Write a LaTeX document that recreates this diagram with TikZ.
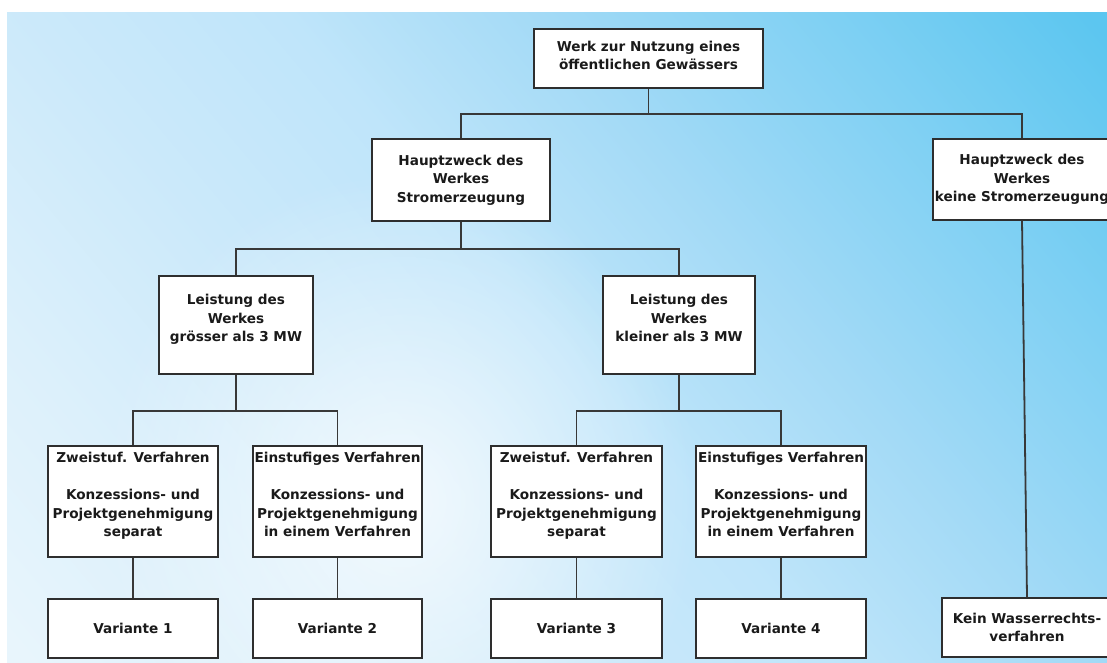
\documentclass[tikz,border=0pt]{standalone}
\usepackage{fontspec}
\setmainfont{DejaVu Sans}
\usetikzlibrary{fadings}
\definecolor{ink}{HTML}{1A1A1A}
\definecolor{boxline}{HTML}{2E2E2E}
\definecolor{wire}{HTML}{383838}
\definecolor{skyA}{HTML}{E8F5FC}
\definecolor{skyB}{HTML}{DCF0FB}
\definecolor{skyC}{HTML}{CBE9FA}
\definecolor{skyD}{HTML}{BFE5FA}
\definecolor{skyE}{HTML}{A3DAF6}
\definecolor{skyF}{HTML}{7ED0F3}
\definecolor{skyG}{HTML}{5CC6F0}
\pgfdeclarehorizontalshading{bgsky}{100bp}{color(0bp)=(skyA); color(28bp)=(skyA); color(35bp)=(skyB); color(43bp)=(skyC); color(50bp)=(skyD); color(57bp)=(skyE); color(65bp)=(skyF); color(72bp)=(skyG); color(100bp)=(skyG)}
\tikzfading[name=softglow, inner color=transparent!0, outer color=transparent!100]
% extra depth below the last line lifts a text block inside its box
\newcommand\liftpad{\rule[-14pt]{0pt}{14pt}}
\begin{document}
\begin{tikzpicture}[x=1pt,y=-1pt,
  box/.style={draw=boxline, line width=1.3pt, fill=white, align=center, inner sep=0pt,
    text=ink, font=\bfseries\fontsize{13.6}{18.5}\selectfont},
  link/.style={draw=wire, line width=1.8pt}]
\fill[white] (0,0) rectangle (1107,662);
\useasboundingbox (0,0) rectangle (1107,662);
\begin{scope}
  \clip (0,0) rectangle (1107,662);
  % sky background with a pale glow lower left of centre
  \begin{scope}
    \clip (7,12) rectangle (1107,662);
    \shade[shading=bgsky, shading angle=40] (-143,-363) rectangle (1257,1037);
    \fill[white, opacity=0.75, path fading=softglow] (400,500) ellipse [x radius=300pt, y radius=330pt];
  \end{scope}

  % level 0
  \node[box, minimum width=229pt, minimum height=59pt] (root) at (648.5,58.5)
    {Werk zur Nutzung eines\\öffentlichen Gewässers\rule[-6pt]{0pt}{6pt}};
  % level 1
  \node[box, minimum width=178pt, minimum height=82pt] (hs) at (461,180)
    {Hauptzweck des\\Werkes\\Stromerzeugung};
  \node[box, minimum width=178pt, minimum height=81pt] (hk) at (1022,179.5)
    {Hauptzweck des\\Werkes\\keine Stromerzeugung};
  % level 2
  \node[box, minimum width=154pt, minimum height=98pt] (lg) at (236,325)
    {Leistung des\\Werkes\\grösser als 3 MW\liftpad};
  \node[box, minimum width=152pt, minimum height=98pt] (lk) at (679,325)
    {Leistung des\\Werkes\\kleiner als 3 MW\liftpad};
  % level 3
  \node[box, minimum width=170pt, minimum height=111pt] (z1) at (133,501.5)
    {Zweistuf. Verfahren\\[18.5pt]Konzessions- und\\Projektgenehmigung\\separat\liftpad};
  \node[box, minimum width=169pt, minimum height=111pt] (e1) at (337.5,501.5)
    {Einstufiges Verfahren\\[18.5pt]Konzessions- und\\Projektgenehmigung\\in einem Verfahren\liftpad};
  \node[box, minimum width=171pt, minimum height=111pt] (z2) at (576.5,501.5)
    {Zweistuf. Verfahren\\[18.5pt]Konzessions- und\\Projektgenehmigung\\separat\liftpad};
  \node[box, minimum width=170pt, minimum height=111pt] (e2) at (781,501.5)
    {Einstufiges Verfahren\\[18.5pt]Konzessions- und\\Projektgenehmigung\\in einem Verfahren\liftpad};
  % level 4
  \node[box, minimum width=170pt, minimum height=59pt] (v1) at (133,628.5) {Variante 1};
  \node[box, minimum width=169pt, minimum height=59pt] (v2) at (337.5,628.5) {Variante 2};
  \node[box, minimum width=171pt, minimum height=59pt] (v3) at (576.5,628.5) {Variante 3};
  \node[box, minimum width=170pt, minimum height=59pt] (v4) at (781,628.5) {Variante 4};
  \node[box, minimum width=170pt, minimum height=59pt] (kw) at (1027,627.5)
    {Kein Wasserrechts-\\verfahren};

  % connectors
  \draw[link] (root.south) -- ++(0,25) -| (hs.north);
  \draw[link] (root.south) -- ++(0,25) -| (hk.north);
  \draw[link] (hs.south) -- ++(0,27) -| (lg.north);
  \draw[link] (hs.south) -- ++(0,27) -| (lk.north);
  \draw[link] (lg.south) -- ++(0,36) -| (z1.north);
  \draw[link] (lg.south) -- ++(0,36) -| (e1.north);
  \draw[link] (lk.south) -- ++(0,36) -| (z2.north);
  \draw[link] (lk.south) -- ++(0,36) -| (e2.north);
  \draw[link] (z1) -- (v1);
  \draw[link] (e1) -- (v2);
  \draw[link] (z2) -- (v3);
  \draw[link] (e2) -- (v4);
  \draw[link] (hk.south) -- (kw.north);
\end{scope}
\end{tikzpicture}
\end{document}
